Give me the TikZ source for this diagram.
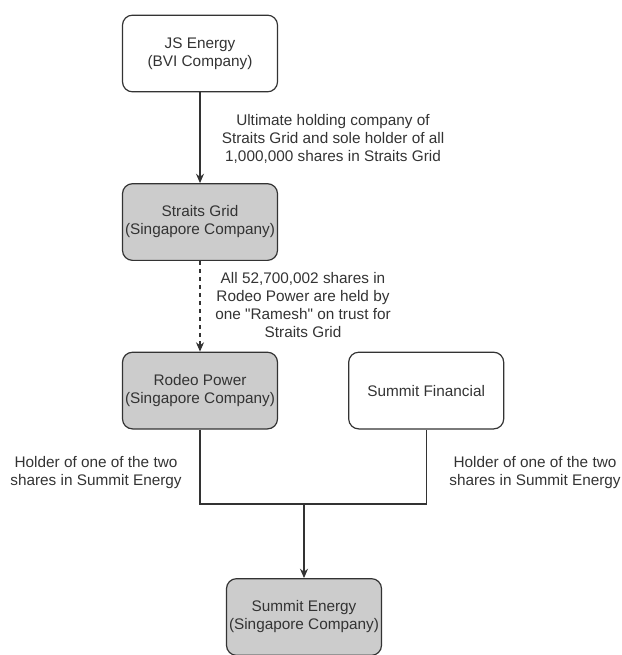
\documentclass[tikz,border=0pt]{standalone}
\usepackage{fontspec}
\setmainfont{Liberation Sans}
\usetikzlibrary{arrows.meta,positioning}
\definecolor{boxgray}{HTML}{CCCCCC}
\definecolor{ink}{HTML}{333333}

\begin{document}
\begin{tikzpicture}[x=0.75pt, y=-0.75pt, node distance=68pt and 52.5pt,
    every node/.style={font=\fontsize{11.5}{13.5}\selectfont, text=ink},
    company/.style={rectangle, rounded corners=7.5pt, draw=ink, line width=0.9pt,
      minimum width=116.25pt, minimum height=57.5pt, inner sep=1pt, align=center},
    owned/.style={company, fill=boxgray},
    note/.style={align=center, inner sep=1pt},
    link/.style={draw=ink, line width=0.9pt},
    >={Stealth[length=7pt,width=6pt]}]
  \useasboundingbox (0,0) rectangle (621,655);
  \node (js) at (200,53.5) [company] {JS Energy\\(BVI Company)};
  \node (sg) [below=of js, owned] {Straits Grid\\(Singapore Company)};
  \node (rp) [below=of sg, owned] {Rodeo Power\\(Singapore Company)};
  \node (sf) [right=of rp, company] {Summit Financial};
  \node (se) at (304,617) [owned] {Summit Energy\\(Singapore Company)};
  \coordinate (join) at (304,504);
  % share notes
  \node (n1) at (333,139) [note] {Ultimate holding company of\\Straits Grid and sole holder of all\\1,000,000 shares in Straits Grid};
  \node (n2) at (303,305) [note] {All 52,700,002 shares in\\Rodeo Power are held by\\one \textquotedbl Ramesh\textquotedbl{} on trust for\\Straits Grid};
  \node (n3) at (96,472.5) [note] {Holder of one of the two\\shares in Summit Energy};
  \node (n4) at (535,472.5) [note] {Holder of one of the two\\shares in Summit Energy};
  \draw[->, link] (js) -- (sg);
  \draw[->, link, dash pattern=on 3pt off 3pt] (sg) -- (rp);
  \draw[link] (rp.south) |- (join) -| (sf.south);
  \draw[->, link] (join) -- (se);
\end{tikzpicture}
\end{document}
